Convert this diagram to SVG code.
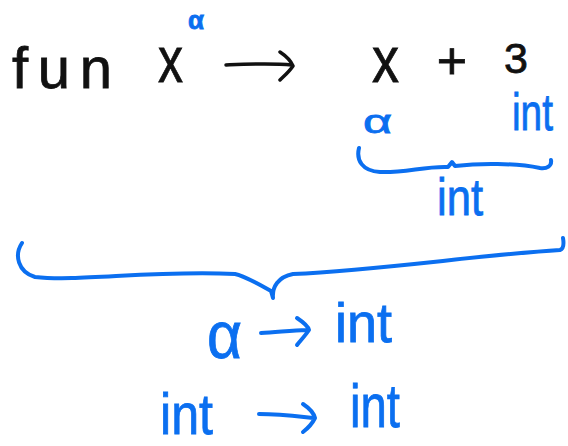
<svg xmlns="http://www.w3.org/2000/svg" width="568" height="446" viewBox="0 0 568 446">
<style>
.k{fill:#111;stroke:#111;stroke-width:0.8;font-family:"Liberation Sans",Arial,sans-serif}
.b{fill:#0b6ff0;stroke:#0b6ff0;stroke-width:0.8;font-family:"Liberation Sans",Arial,sans-serif}
.sk{fill:none;stroke:#111;stroke-width:3.5;stroke-linecap:round;stroke-linejoin:round}
.sb{fill:none;stroke:#0b6ff0;stroke-width:4;stroke-linecap:round;stroke-linejoin:round}
</style>
<rect width="568" height="446" fill="#fff"/>
<g id="expr">
<text class="k" x="12" y="88" font-size="58" textLength="100" lengthAdjust="spacing">fun</text>
<text class="k" x="158" y="82" font-size="64" textLength="25" lengthAdjust="spacingAndGlyphs">x</text>
<text class="k" x="372" y="82" font-size="64" textLength="27" lengthAdjust="spacingAndGlyphs">x</text>
<text class="k" x="452" y="79" font-size="52" text-anchor="middle">+</text>
<text class="k" x="516" y="73" font-size="43" text-anchor="middle">3</text>
</g>
<g id="types-top">
<text class="b" x="188" y="29" font-size="25" font-weight="bold" textLength="16" lengthAdjust="spacingAndGlyphs">α</text>
<text class="b" x="363" y="133" font-size="34" textLength="29" lengthAdjust="spacingAndGlyphs">α</text>
<text class="b" x="512" y="130" font-size="52" textLength="41" lengthAdjust="spacingAndGlyphs">int</text>
<text class="b" x="437" y="215" font-size="52" textLength="46" lengthAdjust="spacingAndGlyphs">int</text>
</g>
<g id="types-bottom">
<text class="b" x="207" y="358" font-size="66" textLength="35" lengthAdjust="spacingAndGlyphs">α</text>
<text class="b" x="335" y="342" font-size="56" textLength="57" lengthAdjust="spacingAndGlyphs">int</text>
<text class="b" x="160" y="434" font-size="58" textLength="53" lengthAdjust="spacingAndGlyphs">int</text>
<text class="b" x="350" y="427" font-size="62" textLength="50" lengthAdjust="spacingAndGlyphs">int</text>
</g>
<g id="connectors">
<path class="sk" d="M226,65 C250,64 270,63 292,65 M280,52 C286,56 291,61 293,66 C289,72 284,76 280,80"/>
<path class="sb" d="M359,148 C356,160 362,171 380,172 C405,173 425,166 448,167 L452,162 L455,166 C480,163 515,163 540,168 C547,169 552,166 551,160"/>
<path class="sb" d="M22,243 C14,255 18,272 35,277 C80,282 150,270 235,274 C245,276 260,285 271,291 L273,298 C272,287 278,277 293,274 C380,270 480,255 560,250 C563,249 564,244 563,238"/>
<path class="sb" d="M261,333 C275,333 290,330 307,330 M297,318 C303,322 308,326 309,330 C305,336 300,341 297,345"/>
<path class="sb" d="M259,414 C280,414 295,416 314,418 M303,404 C309,408 314,414 315,418 C312,424 307,429 303,432"/>
</g>
</svg>
